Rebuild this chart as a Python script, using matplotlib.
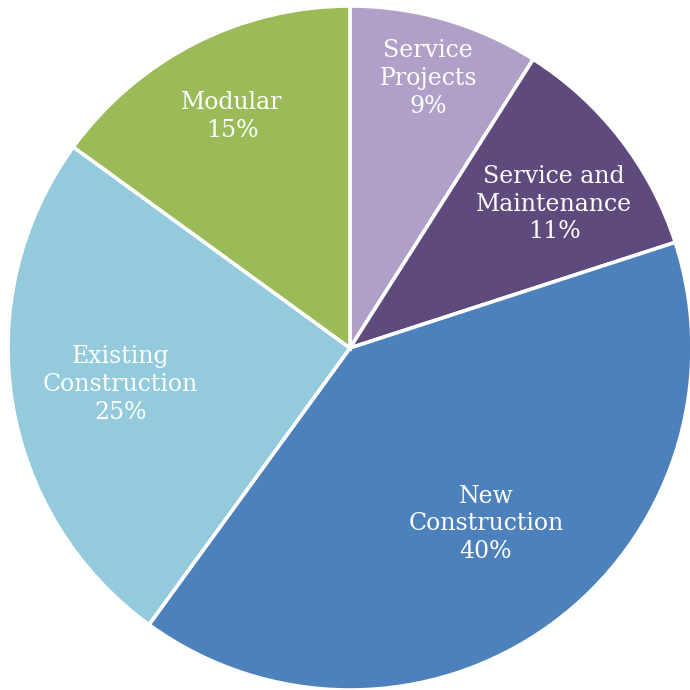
import numpy as np
import matplotlib.pyplot as plt

labels = ['Service\nProjects', 'Service and\nMaintenance', 'New\nConstruction',
          'Existing\nConstruction', 'Modular']
values = [9, 11, 40, 25, 15]
colors = ['#B09FC7', '#5F4A7D', '#4D81BC', '#93CADC', '#9BBB59']
# label placement: distance from centre (fraction of radius) and angle nudge (deg)
label_r = [0.82, 0.73, 0.65, 0.68, 0.76]
label_shift = [0.0, -2.6, 1.7, 0.0, 0.0]

fig = plt.figure(figsize=(6.9, 6.9), dpi=100)
ax = fig.add_axes([8 / 690, 0.0, 684 / 690, 684 / 690])

wedges, _ = ax.pie(values, colors=colors, startangle=90, counterclock=False,
                   wedgeprops=dict(edgecolor='white', linewidth=2.6))

for w, lab, v, r, s in zip(wedges, labels, values, label_r, label_shift):
    mid = np.deg2rad((w.theta1 + w.theta2) / 2 + s)
    ax.text(r * np.cos(mid), r * np.sin(mid), f'{lab}\n{v}%',
            ha='center', va='center', color='white', fontsize=17,
            family='DejaVu Serif', linespacing=1.27)

ax.set_xlim(-1, 1)
ax.set_ylim(-1, 1)
ax.set_aspect('equal')
ax.axis('off')

fig.savefig('out.png', dpi=100)
